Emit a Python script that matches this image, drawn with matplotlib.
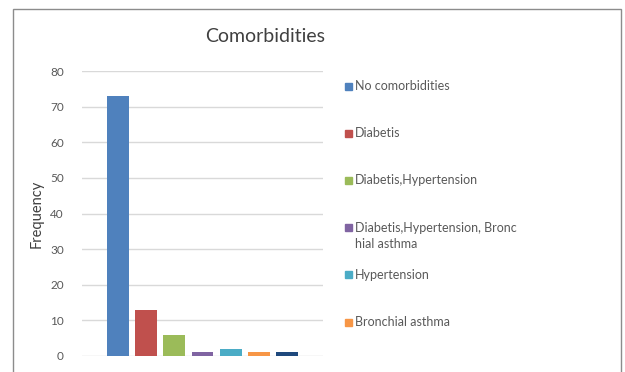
import numpy as np
import matplotlib.pyplot as plt
from matplotlib.patches import Rectangle

plt.rcParams['font.family'] = ['Lato', 'DejaVu Sans']

# Comorbidity groups and how many patients fall in each
labels = ['No comorbidities', 'Diabetis', 'Diabetis,Hypertension',
          'Diabetis,Hypertension, Bronc\nhial asthma', 'Hypertension',
          'Bronchial asthma']
freq = [73, 13, 6, 1, 2, 1, 1]
colors = ['#4F81BD', '#C0504D', '#9BBB59', '#8064A2', '#4BACC6',
          '#F79646', '#1F497D']
yticks = [0, 10, 20, 30, 40, 50, 60, 70, 80]

fig = plt.figure(figsize=(6.25, 3.72), dpi=100)
ax = fig.add_axes([82 / 625, 1 - 356 / 372, 241 / 625, 285 / 372])

x = np.arange(len(freq))
ax.bar(x, freq, width=0.78, color=colors, zorder=3)

ax.set_ylim(0, 80)
ax.set_xlim(-1.28, 7.28)
ax.set_yticks(yticks)
ax.set_xticks([])
ax.grid(axis='y', color='#D9D9D9', linewidth=1, zorder=0)
for s in ax.spines.values():
    s.set_visible(False)
ax.tick_params(axis='y', length=0, pad=13, labelsize=8.5, labelcolor='#595959')
ax.set_ylabel('Frequency', fontsize=10.5, color='#404040', labelpad=5)

fig.text(265 / 625, 1 - 37 / 372, 'Comorbidities', ha='center', va='center',
         fontsize=14, color='#404040')

# legend drawn by hand, one entry every 47 px
for i, lab in enumerate(labels):
    y = 1 - (86 + 47.2 * i) / 372
    fig.patches.append(Rectangle((345 / 625, y - 3.5 / 372), 7 / 625, 7 / 372,
                                 transform=fig.transFigure, color=colors[i]))
    fig.text(355 / 625, y + 6 / 372, lab, ha='left', va='top', fontsize=9,
             color='#595959', linespacing=1.45)

# outer chart border
fig.patches.append(Rectangle((13 / 625, -0.1), 608 / 625, 1.1 - 9 / 372,
                             transform=fig.transFigure, fill=False,
                             edgecolor='#8C8C8C', linewidth=1))

fig.savefig('out.png', dpi=100)
